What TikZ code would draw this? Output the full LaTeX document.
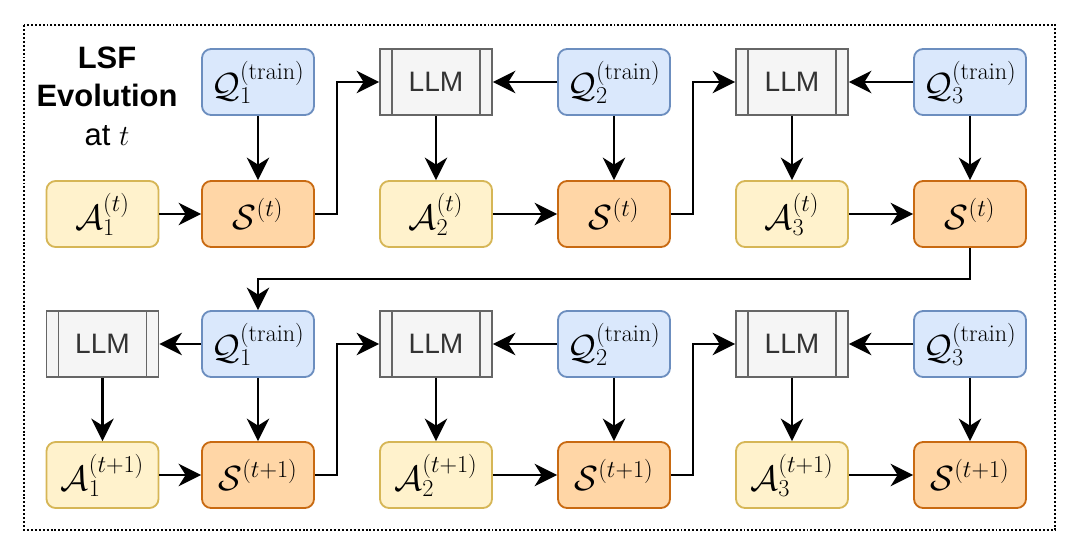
\documentclass[tikz,border=0pt]{standalone}
\usepackage{fontspec}
\setsansfont{Liberation Sans}
\usetikzlibrary{arrows.meta,calc}
\definecolor{qfill}{HTML}{DAE8FC}
\definecolor{qdraw}{HTML}{6C8EBF}
\definecolor{afill}{HTML}{FFF2CC}
\definecolor{adraw}{HTML}{D6B656}
\definecolor{sfill}{HTML}{FFD6A6}
\definecolor{sdraw}{HTML}{C86A12}
\definecolor{lfill}{HTML}{F5F5F5}
\definecolor{ldraw}{HTML}{666666}
\begin{document}
\begin{tikzpicture}[x=0.025cm,y=-0.025cm,
 box/.style={minimum width=2.8cm,minimum height=1.65cm,inner sep=0pt,line width=1.3pt,font=\fontsize{24.5}{28}\selectfont},
 qbox/.style={box,rounded corners=6.5pt,draw=qdraw,fill=qfill},
 abox/.style={box,rounded corners=6.5pt,draw=adraw,fill=afill},
 sbox/.style={box,rounded corners=6.5pt,draw=sdraw,fill=sfill},
 llmbox/.style={box,draw=ldraw,fill=lfill,text=black!80,font=\sffamily\fontsize{20}{23}\selectfont,
   path picture={
     \draw[ldraw,line width=1.3pt] ([xshift=0.3cm]path picture bounding box.north west) -- ([xshift=0.3cm]path picture bounding box.south west);
     \draw[ldraw,line width=1.3pt] ([xshift=-0.3cm]path picture bounding box.north east) -- ([xshift=-0.3cm]path picture bounding box.south east);
   }},
 arr/.style={line width=1.6pt,-{Stealth[length=16pt,width=16pt,inset=5pt]}},
 frame/.style={line width=1.4pt,dash pattern=on 1.4pt off 1.4pt}
]
\useasboundingbox (0,0) rectangle (1080,555);
\draw[frame] (24,25) rectangle (1055,530);
\node[align=center,font=\sffamily\fontsize{22}{27.4}\selectfont] (title) at (107,96) {\textbf{LSF}\\\textbf{Evolution}\\at $t$};
% row 1
\node[qbox] (q11) at (258,82) {$\mathcal{Q}_1^{(\mathrm{train})}$};
\node[abox] (a11) at (102.5,214) {$\mathcal{A}_1^{(t)}$};
\node[sbox] (s11) at (258,214) {$\mathcal{S}^{(t)}$};
\node[llmbox] (l12) at (436,82) {LLM};
\node[qbox] (q12) at (614,82) {$\mathcal{Q}_2^{(\mathrm{train})}$};
\node[abox] (a12) at (436,214) {$\mathcal{A}_2^{(t)}$};
\node[sbox] (s12) at (614,214) {$\mathcal{S}^{(t)}$};
\node[llmbox] (l13) at (792,82) {LLM};
\node[qbox] (q13) at (970,82) {$\mathcal{Q}_3^{(\mathrm{train})}$};
\node[abox] (a13) at (792,214) {$\mathcal{A}_3^{(t)}$};
\node[sbox] (s13) at (970,214) {$\mathcal{S}^{(t)}$};
% row 2
\node[llmbox] (l21) at (102.5,344) {LLM};
\node[qbox] (q21) at (258,344) {$\mathcal{Q}_1^{(\mathrm{train})}$};
\node[abox] (a21) at (102.5,475) {$\mathcal{A}_1^{(t+1)}$};
\node[sbox] (s21) at (258,475) {$\mathcal{S}^{(t+1)}$};
\node[llmbox] (l22) at (436,344) {LLM};
\node[qbox] (q22) at (614,344) {$\mathcal{Q}_2^{(\mathrm{train})}$};
\node[abox] (a22) at (436,475) {$\mathcal{A}_2^{(t+1)}$};
\node[sbox] (s22) at (614,475) {$\mathcal{S}^{(t+1)}$};
\node[llmbox] (l23) at (792,344) {LLM};
\node[qbox] (q23) at (970,344) {$\mathcal{Q}_3^{(\mathrm{train})}$};
\node[abox] (a23) at (792,475) {$\mathcal{A}_3^{(t+1)}$};
\node[sbox] (s23) at (970,475) {$\mathcal{S}^{(t+1)}$};
% connectors row 1
\draw[arr] (q11) -- (s11);
\draw[arr] (a11) -- (s11);
\draw[arr] (s11.east) -- ++(22,0) |- (l12.west);
\draw[arr] (q12) -- (l12);
\draw[arr] (l12) -- (a12);
\draw[arr] (q12) -- (s12);
\draw[arr] (a12) -- (s12);
\draw[arr] (s12.east) -- ++(22,0) |- (l13.west);
\draw[arr] (q13) -- (l13);
\draw[arr] (l13) -- (a13);
\draw[arr] (q13) -- (s13);
\draw[arr] (a13) -- (s13);
\draw[arr] (s13.south) -- ++(0,31) -| (q21.north);
% connectors row 2
\draw[arr] (q21) -- (l21);
\draw[arr] (l21) -- (a21);
\draw[arr] (q21) -- (s21);
\draw[arr] (a21) -- (s21);
\draw[arr] (s21.east) -- ++(22,0) |- (l22.west);
\draw[arr] (q22) -- (l22);
\draw[arr] (l22) -- (a22);
\draw[arr] (q22) -- (s22);
\draw[arr] (a22) -- (s22);
\draw[arr] (s22.east) -- ++(22,0) |- (l23.west);
\draw[arr] (q23) -- (l23);
\draw[arr] (l23) -- (a23);
\draw[arr] (q23) -- (s23);
\draw[arr] (a23) -- (s23);
\end{tikzpicture}
\end{document}
